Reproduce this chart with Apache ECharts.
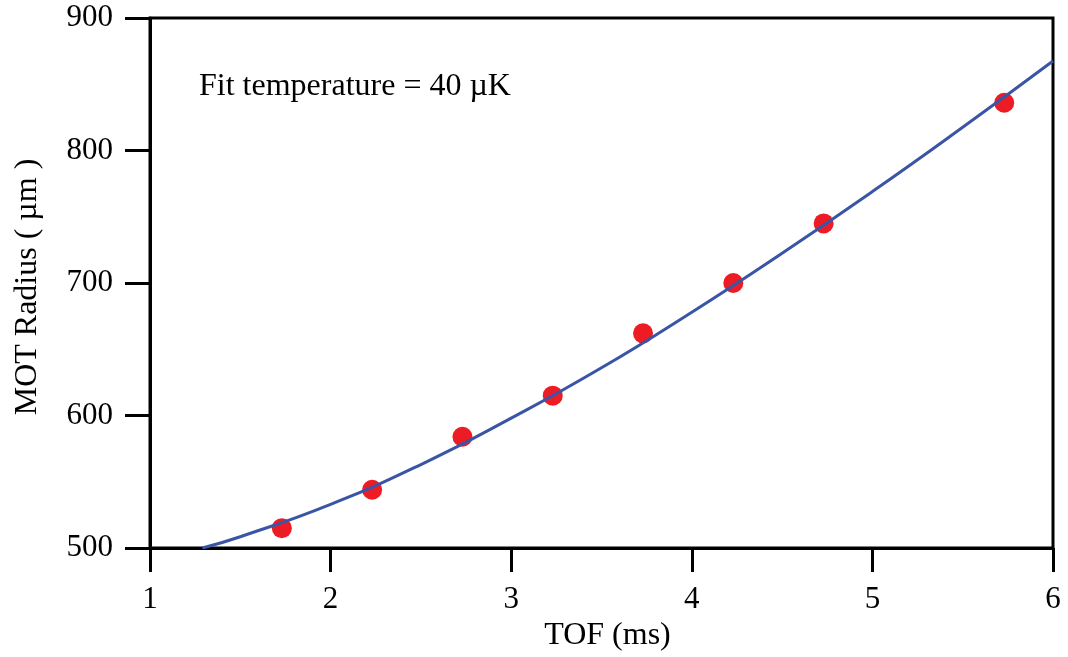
<!DOCTYPE html>
<html><head><meta charset="utf-8">
<script src="https://cdn.jsdelivr.net/npm/echarts@6/dist/echarts.min.js"></script>
<style>html,body{margin:0;padding:0;background:#fff}#c{width:1068px;height:657px}</style>
</head><body><div id="c"></div>
<script>
const tofMs = [1.73, 2.23, 2.73, 3.23, 3.73, 4.23, 4.73, 5.73];
const radiusUm = [515, 544, 584, 615, 662, 700, 745, 836];
const fitTof = [1.29, 1.5, 2, 2.5, 3, 3.5, 4, 4.5, 5, 5.5, 6];
const fitRadius = [500, 508.5, 533, 563, 598, 636, 678, 722.5, 769, 817.5, 867.5];
const xTicks = [1, 2, 3, 4, 5, 6];
const yTicks = [500, 600, 700, 800, 900];
const annotation = 'Fit temperature = 40 \u00b5K';

const font = '"Liberation Serif", "Times New Roman", serif';
const chart = echarts.init(document.getElementById('c'), null, {renderer: 'canvas'});
chart.setOption({
  animation: false,
  backgroundColor: '#fff',
  grid: {left: 150, right: 15, top: 18, bottom: 109, show: true, borderColor: '#000', borderWidth: 3, backgroundColor: 'transparent'},
  xAxis: {
    type: 'value', min: xTicks[0], max: xTicks[xTicks.length - 1], interval: 1,
    name: 'TOF (ms)', nameLocation: 'middle', nameGap: 71,
    nameTextStyle: {fontFamily: font, fontSize: 32, color: '#000', padding: [0, 0, 0, 12]},
    axisLine: {show: true, lineStyle: {color: '#000', width: 3}},
    axisTick: {show: true, length: 24, lineStyle: {color: '#000', width: 3}},
    axisLabel: {margin: 36, fontFamily: font, fontSize: 31, color: '#000'},
    splitLine: {show: false}
  },
  yAxis: {
    type: 'value', min: yTicks[0], max: yTicks[yTicks.length - 1], interval: 100,
    name: 'MOT Radius ( \u00b5m )', nameLocation: 'middle', nameGap: 106,
    nameTextStyle: {fontFamily: font, fontSize: 32, color: '#000', padding: [0, 8, 0, 0]},
    axisLine: {show: true, lineStyle: {color: '#000', width: 3}},
    axisTick: {show: true, length: 25, lineStyle: {color: '#000', width: 3}},
    axisLabel: {margin: 37, fontFamily: font, fontSize: 31, color: '#000'},
    splitLine: {show: false}
  },
  graphic: [{
    type: 'text', left: 199, top: 71,
    style: {text: annotation, font: '32px ' + font, fill: '#000'}
  }],
  series: [
    {
      type: 'scatter', z: 2,
      data: tofMs.map((t, i) => [t, radiusUm[i]]),
      symbol: 'circle', symbolSize: 20,
      itemStyle: {color: '#ed1c24', opacity: 1}
    },
    {
      type: 'line', z: 3, smooth: true, showSymbol: false,
      data: fitTof.map((t, i) => [t, fitRadius[i]]),
      lineStyle: {color: '#3a55a5', width: 3}
    }
  ]
});
</script></body></html>
